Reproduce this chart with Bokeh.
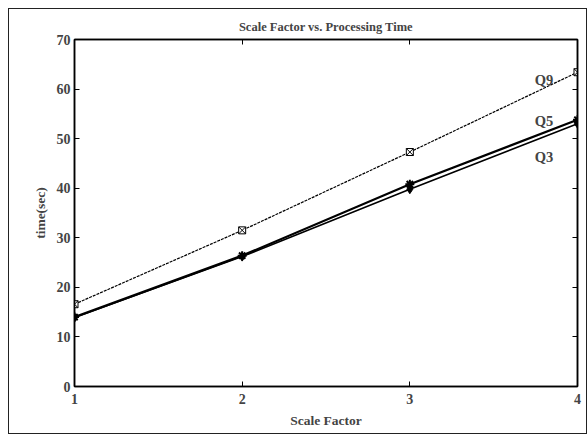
from bokeh.plotting import figure
from bokeh.models import LinearAxis, FixedTicker, Label, Range1d
from bokeh.embed import file_html
from bokeh.resources import INLINE

scale = [1, 2, 3, 4]
q9 = [16.6, 31.5, 47.3, 63.4]
q5 = [14.0, 26.4, 40.8, 53.8]
q3 = [13.9, 26.2, 39.8, 53.0]
x_ticks = [1, 2, 3, 4]
y_ticks = [0, 10, 20, 30, 40, 50, 60, 70]

FONT = "Liberation Serif"

p = figure(width=579, height=426, output_backend="svg", toolbar_location=None,
           x_range=Range1d(1, 4), y_range=Range1d(0, 70),
           title="Scale Factor vs. Processing Time",
           min_border_left=65, min_border_right=11, min_border_top=30, min_border_bottom=49)
p.styles = {"border": "1px solid #222", "box-sizing": "border-box",
            "margin-left": "8px", "margin-top": "8px"}
p.title.align = "center"
p.title.text_font = FONT
p.title.text_font_size = "12.5px"
p.title.text_font_style = "bold"
p.title.offset = 0
p.title.standoff = 11

p.grid.visible = False
p.outline_line_color = "black"
p.outline_line_width = 1.5

def style(ax, labels=True):
    ax.major_tick_in = 5
    ax.major_tick_out = 0
    ax.minor_tick_line_color = None
    ax.axis_line_width = 1.5
    ax.major_label_text_font = FONT
    ax.major_label_text_font_size = "14px"
    ax.major_label_text_font_style = "bold"
    ax.major_label_standoff = 4
    if not labels:
        ax.major_label_text_color = None
        ax.major_label_standoff = 0
    ax.axis_label_text_font = FONT
    ax.axis_label_text_font_size = "13.5px"
    ax.axis_label_text_font_style = "bold"

p.xaxis[0].ticker = FixedTicker(ticks=x_ticks)
p.yaxis[0].ticker = FixedTicker(ticks=y_ticks)
for ax in p.xaxis + p.yaxis:
    style(ax)
p.xaxis.axis_label = "Scale Factor"
p.xaxis.axis_label_standoff = 6
p.xaxis.major_label_standoff = 7
p.yaxis.axis_label = "time(sec)"
p.yaxis.axis_label_standoff = 6

top = LinearAxis(ticker=FixedTicker(ticks=x_ticks))
right = LinearAxis(ticker=FixedTicker(ticks=y_ticks))
for ax in (top, right):
    style(ax, labels=False)
p.add_layout(top, "above")
p.add_layout(right, "right")

p.line(scale, q9, line_color="black", line_width=1.2, line_dash="3 1")
p.scatter(scale, q9, marker="square_x", size=7, fill_color="white", line_color="black")
p.line(scale, q5, line_color="black", line_width=2.2)
p.scatter(scale, q5, marker="asterisk", size=9, line_color="black", line_width=2)
p.line(scale, q3, line_color="black", line_width=1.6)
p.scatter(scale, q3, marker="diamond", size=9, fill_color="black", line_color="black")

for txt, yv in (("Q9", 61.9), ("Q5", 53.5), ("Q3", 46.2)):
    p.add_layout(Label(x=3.80, y=yv, text=txt, text_font=FONT, text_font_size="14.5px",
                       text_font_style="bold", text_align="center", text_baseline="middle"))

open("out.html", "w").write(file_html(p, INLINE))
